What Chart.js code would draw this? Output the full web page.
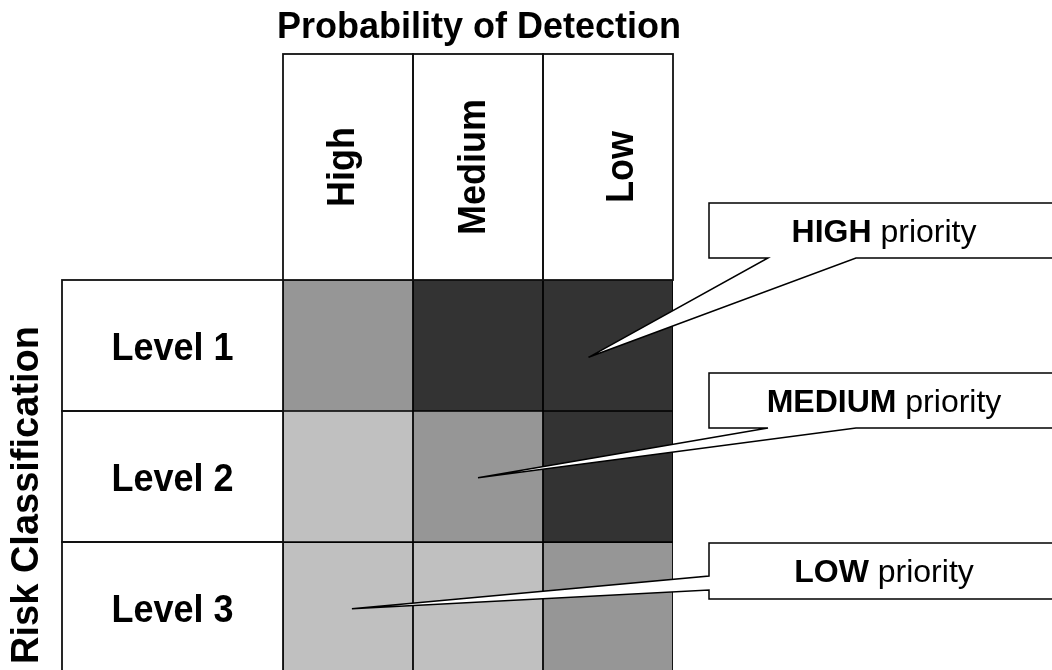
<!DOCTYPE html>
<html>
<head>
<meta charset="utf-8">
<script src="https://cdn.jsdelivr.net/npm/chart.js@4/dist/chart.umd.min.js"></script>
<style>
  html, body { margin: 0; padding: 0; background: #fff; }
  #wrap { width: 1052px; height: 670px; position: relative; overflow: hidden; }
</style>
</head>
<body>
<div id="wrap"><canvas id="matrixChart" width="1052" height="670"></canvas></div>
<script>
const columnLabels = ['High', 'Medium', 'Low'];
const rowLabels = ['Level 1', 'Level 2', 'Level 3'];
// priority of each cell, 1 = low, 2 = medium, 3 = high
const level1Priority = [2, 3, 3];
const level2Priority = [1, 2, 3];
const level3Priority = [1, 1, 2];
const calloutNames = ['HIGH', 'MEDIUM', 'LOW'];
// where each callout points, in column index / row value units
const calloutTipX = [1.85, 1.0, 0.03];
const calloutTipY = [2.41, 1.49, 0.49];

const rowPriorities = [level1Priority, level2Priority, level3Priority];
const priorityColors = ['#c0c0c0', '#969696', '#333333'];
const FONT = '"Liberation Sans", Arial, sans-serif';

// callout boxes, pixel layout
const calloutBoxes = [
  { top: 203, bottom: 258, side: 'bottom', a: 768, b: 856 },
  { top: 373, bottom: 428, side: 'bottom', a: 768, b: 856 },
  { top: 543, bottom: 599, side: 'left', a: 576, b: 590 }
];
const headerNudge = [-7, -6, 12];

const ctx = document.getElementById('matrixChart').getContext('2d');

const frame = {
  id: 'frame',
  afterDraw(chart) {
    const c = chart.ctx;
    const xs = chart.scales.x, ys = chart.scales.y;
    const area = chart.chartArea;
    const half = (xs.getPixelForValue(1) - xs.getPixelForValue(0)) / 2;
    c.save();
    c.strokeStyle = '#111';
    c.lineWidth = 1.8;
    c.fillStyle = '#000';

    // title
    c.font = 'bold 36px ' + FONT;
    c.textAlign = 'center';
    c.textBaseline = 'alphabetic';
    c.fillText('Probability of Detection', 479, 38);

    // column headers
    const headTop = 54;
    columnLabels.forEach((lab, i) => {
      const cx = xs.getPixelForValue(i);
      c.strokeRect(cx - half, headTop, half * 2, area.top - headTop);
      c.save();
      c.translate(cx + 13 + headerNudge[i], (headTop + area.top) / 2);
      c.rotate(-Math.PI / 2);
      c.scale(1, 1.08);
      c.font = 'bold 36px ' + FONT;
      c.fillText(lab, 0, 0);
      c.restore();
    });

    // row headers
    const rowLeft = 62;
    rowLabels.forEach((lab, i) => {
      const top = ys.getPixelForValue(3 - i);
      const bot = ys.getPixelForValue(2 - i);
      c.strokeRect(rowLeft, top, area.left - rowLeft, bot - top + (i === 2 ? 20 : 0));
      c.save();
      c.translate((rowLeft + area.left) / 2, (top + bot) / 2 + 14);
      c.scale(1, 1.06);
      c.font = 'bold 36px ' + FONT;
      c.fillText(lab, 0, 0);
      c.restore();
    });

    // side title
    c.save();
    c.translate(38, 495);
    c.rotate(-Math.PI / 2);
    c.font = 'bold 38px ' + FONT;
    c.fillText('Risk Classification', 0, 0);
    c.restore();
    c.restore();
  },
  afterDatasetsDraw(chart) {
    const c = chart.ctx;
    const xs = chart.scales.x, ys = chart.scales.y;
    c.save();
    c.strokeStyle = '#000';
    c.lineWidth = 1.5;
    c.lineJoin = 'miter';
    calloutBoxes.forEach((bx, i) => {
      const tx = xs.getPixelForValue(calloutTipX[i]);
      const ty = ys.getPixelForValue(calloutTipY[i]);
      const left = 709, right = 1070;
      c.beginPath();
      c.moveTo(left, bx.top);
      c.lineTo(right, bx.top);
      c.lineTo(right, bx.bottom);
      if (bx.side === 'bottom') {
        c.lineTo(bx.b, bx.bottom);
        c.lineTo(tx, ty);
        c.lineTo(bx.a, bx.bottom);
        c.lineTo(left, bx.bottom);
      } else {
        c.lineTo(left, bx.bottom);
        c.lineTo(left, bx.b);
        c.lineTo(tx, ty);
        c.lineTo(left, bx.a);
      }
      c.closePath();
      c.fillStyle = '#fff';
      c.fill();
      c.stroke();

      // label: bold name + regular word, centred
      const bold = calloutNames[i];
      const rest = ' priority';
      c.font = 'bold 32px ' + FONT;
      const w1 = c.measureText(bold).width;
      c.font = '32px ' + FONT;
      const w2 = c.measureText(rest).width;
      const x0 = 884 - (w1 + w2) / 2;
      const y0 = (bx.top + bx.bottom) / 2 + 11;
      c.fillStyle = '#000';
      c.textAlign = 'left';
      c.textBaseline = 'alphabetic';
      c.font = 'bold 32px ' + FONT;
      c.fillText(bold, x0, y0);
      c.font = '32px ' + FONT;
      c.fillText(rest, x0 + w1, y0);
    });
    c.restore();
  }
};

const chart = new Chart(ctx, {
  type: 'bar',
  data: {
    labels: columnLabels,
    datasets: rowLabels.map((lab, i) => ({
      label: lab,
      data: columnLabels.map(() => [2 - i, 3 - i]),
      backgroundColor: rowPriorities[i].map(p => priorityColors[p - 1]),
      borderColor: '#000',
      borderWidth: 1.2,
      borderSkipped: false,
      grouped: false,
      barPercentage: 1,
      categoryPercentage: 1
    }))
  },
  options: {
    responsive: false,
    animation: false,
    layout: { padding: { left: 283, top: 280, right: 379, bottom: 0 } },
    plugins: { legend: { display: false }, tooltip: { enabled: false }, title: { display: false } },
    scales: {
      x: { display: false },
      y: { display: false, min: 0.023, max: 3 }
    }
  },
  plugins: [frame]
});
</script>
</body>
</html>
